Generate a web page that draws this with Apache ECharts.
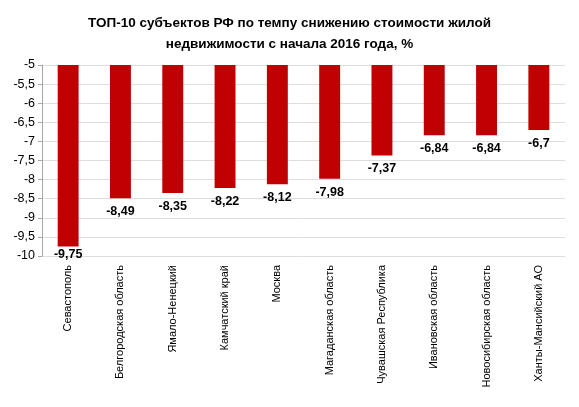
<!DOCTYPE html>
<html style="height: 100%">
<head>
    <meta charset="utf-8">
</head>
<body style="height: 100%; margin: 0; background: #fff">
<div id="container" style="height: 100%"></div>
<script src="https://cdn.jsdelivr.net/npm/echarts@6/dist/echarts.min.js"></script>
<script type="text/javascript">
    // data
    var regions = ['Севастополь', 'Белгородская область', 'Ямало-Ненецкий', 'Камчатский край', 'Москва',
        'Магаданская область', 'Чувашская Республика', 'Ивановская область', 'Новосибирская область',
        'Ханты-Мансийский АО'];
    var priceChange = [-9.75, -8.49, -8.35, -8.22, -8.12, -7.98, -7.37, -6.84, -6.84, -6.7];

    var font = 'Liberation Sans';
    function comma(v) {
        return String(v).replace('.', ',');
    }

    // the lowest bar label sits tighter so it stays above the axis labels
    var barData = priceChange.map(function (v) {
        if (v < -9.5) {
            return {value: v, label: {distance: 2}};
        }
        return v;
    });

    var dom = document.getElementById("container");
    var myChart = echarts.init(dom);
    var option = {
        animation: false,
        textStyle: {fontFamily: font},
        title: {
            text: 'ТОП-10 субъектов РФ по темпу снижению стоимости жилой\nнедвижимости с начала 2016 года, %',
            left: 'center',
            top: 8,
            textStyle: {
                fontFamily: font,
                fontSize: 13.5,
                fontWeight: 'bold',
                color: '#000',
                lineHeight: 21
            }
        },
        grid: {
            left: 42,
            right: 14,
            top: 65,
            bottom: 151
        },
        xAxis: {
            type: 'category',
            data: regions,
            position: 'bottom',
            axisLine: {show: false},
            axisTick: {show: false},
            axisLabel: {
                rotate: 90,
                interval: 0,
                margin: 9,
                fontSize: 11,
                color: '#000',
                fontFamily: font
            }
        },
        yAxis: {
            type: 'value',
            min: -10,
            max: -5,
            interval: 0.5,
            axisLine: {show: true, lineStyle: {color: '#a6a6a6'}},
            axisTick: {show: true, length: 4, lineStyle: {color: '#a6a6a6'}},
            splitLine: {lineStyle: {color: '#dedede'}},
            axisLabel: {
                fontSize: 12.5,
                color: '#000',
                margin: 7,
                fontFamily: font,
                formatter: function (v) { return comma(v); }
            }
        },
        series: [{
            type: 'bar',
            data: barData,
            barWidth: '40%',
            clip: true,
            itemStyle: {color: '#c00000'},
            label: {
                show: true,
                position: 'bottom',
                distance: 7,
                fontSize: 12.5,
                fontWeight: 'bold',
                color: '#000',
                fontFamily: font,
                formatter: function (p) { return comma(p.value); }
            }
        }]
    };
    myChart.setOption(option);
    window.addEventListener("resize", function () {
        myChart.resize();
    });
</script>
</body>
</html>
